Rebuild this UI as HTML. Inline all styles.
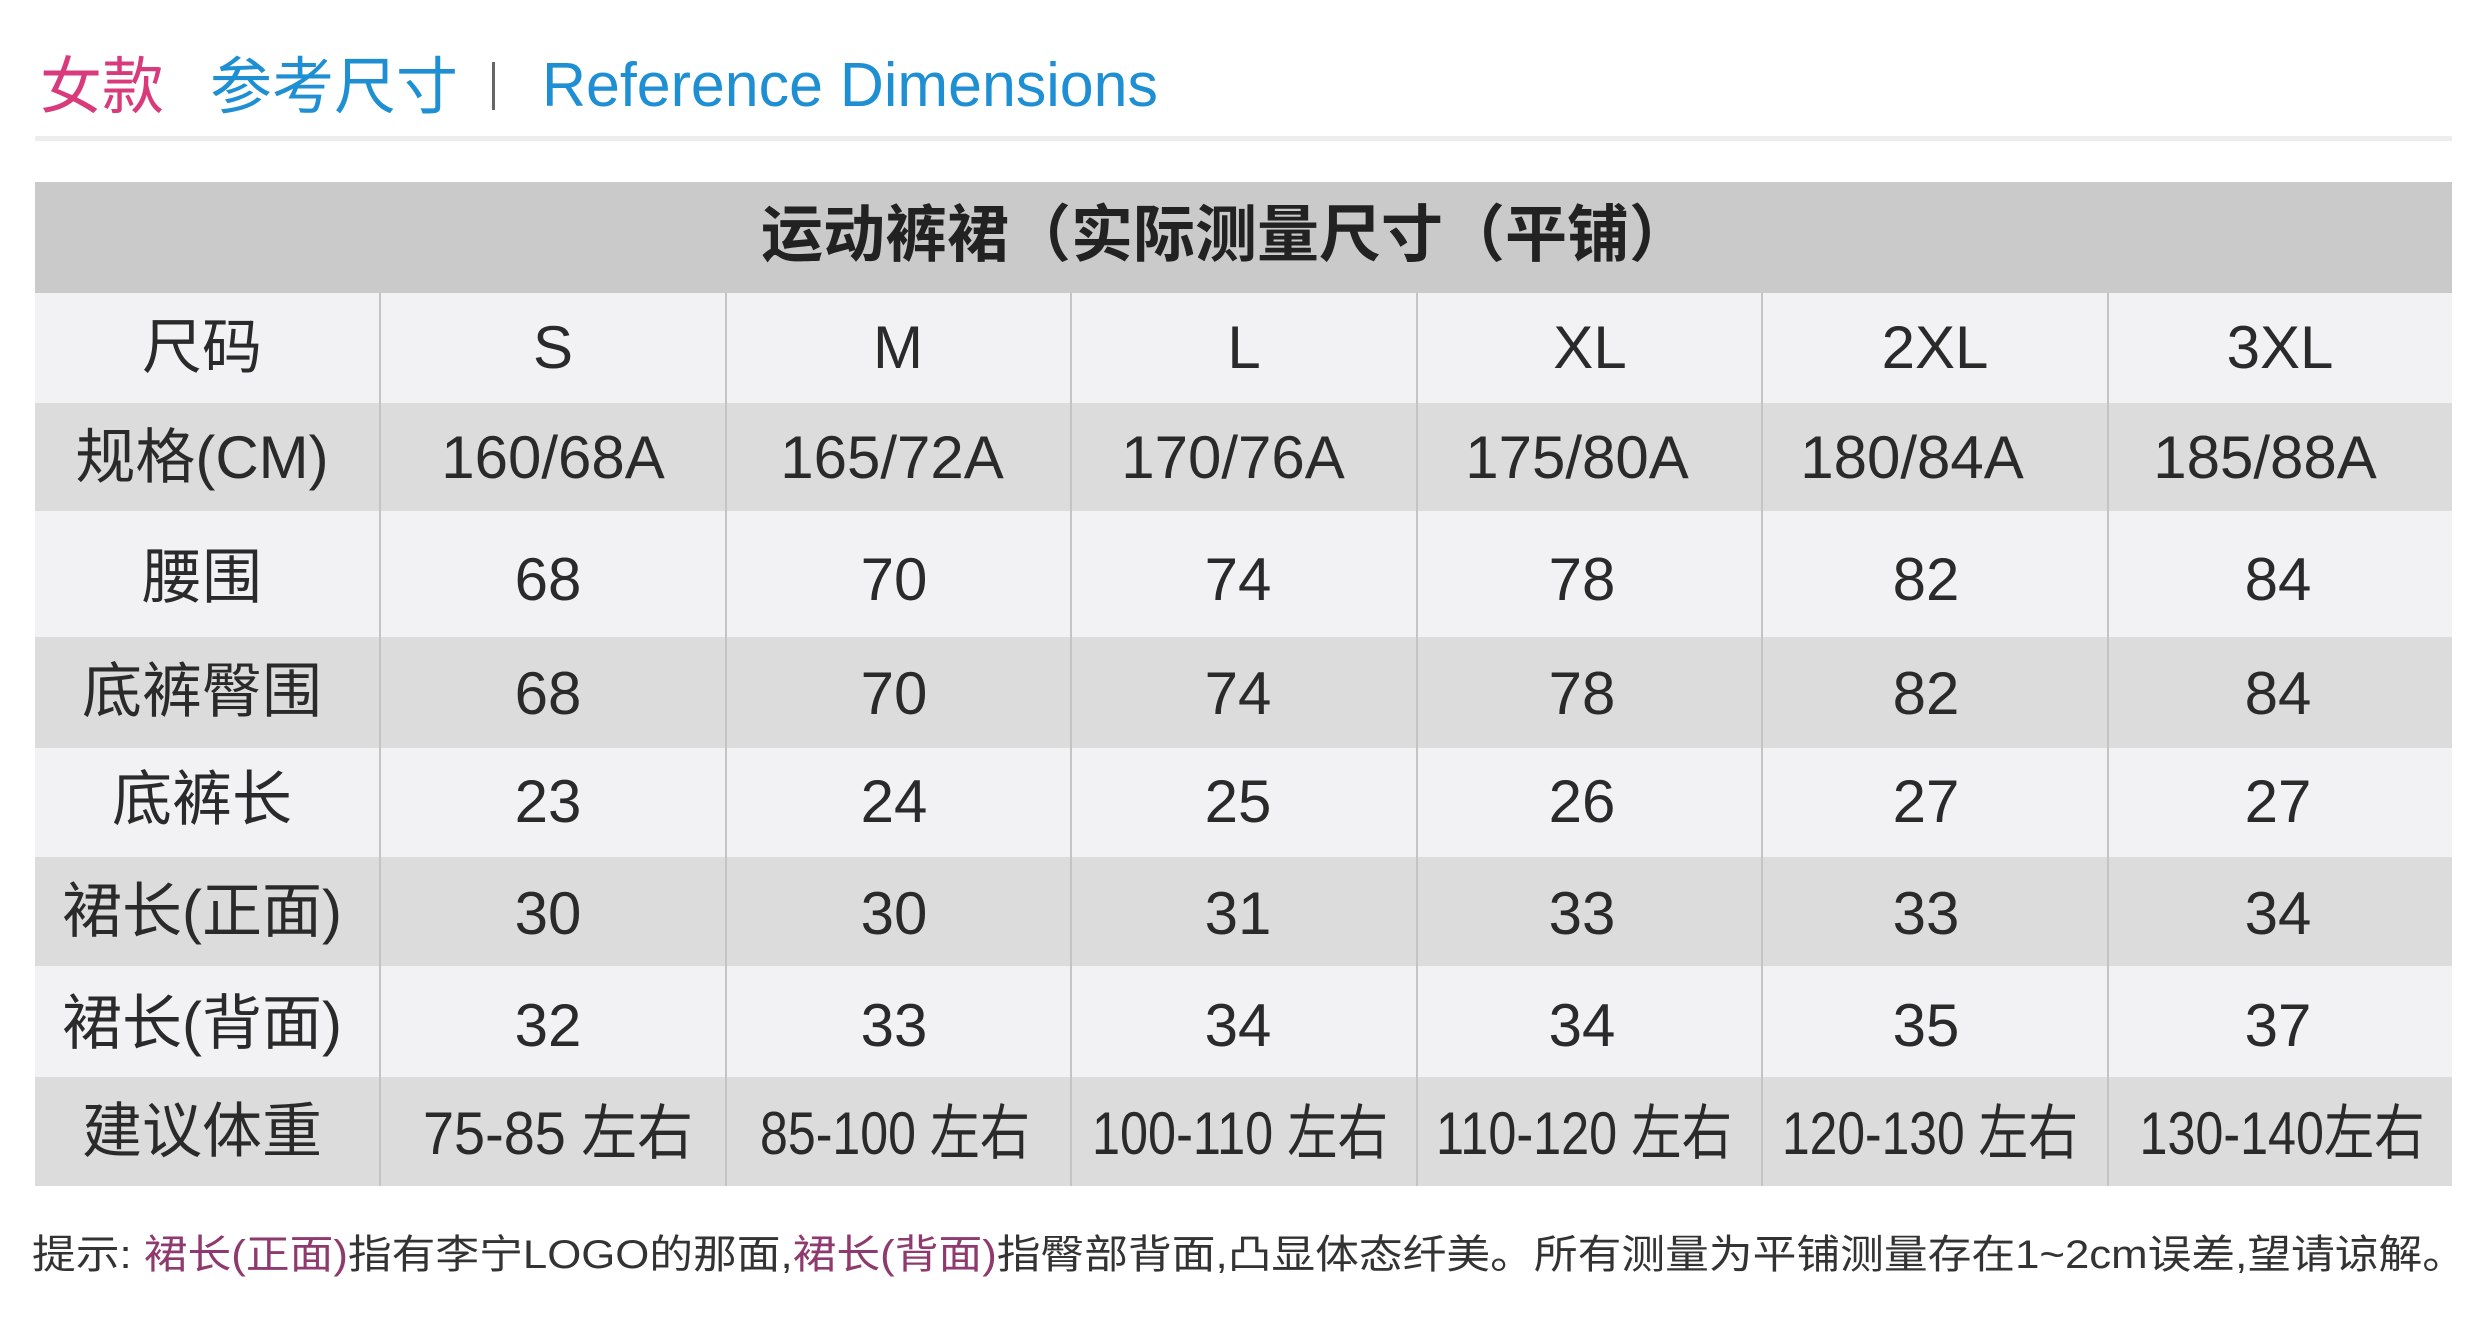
<!DOCTYPE html>
<html><head><meta charset="utf-8"><style>
html,body{margin:0;padding:0;background:#fff;}
svg{display:block;}
text{font-family:"Liberation Sans","Noto Sans CJK SC",sans-serif;}
</style></head><body>
<svg width="2480" height="1328" viewBox="0 0 2480 1328" xmlns="http://www.w3.org/2000/svg">
<rect width="2480" height="1328" fill="#fff"/>
<!-- title -->
<text x="40" y="108" font-size="62" fill="#d83a7c">女款</text>
<text x="210" y="108" font-size="62" fill="#1e8fd2">参考尺寸</text>
<rect x="492" y="62" width="3" height="48" fill="#666"/>
<text x="542" y="106" font-size="62" fill="#1e8fd2" textLength="616" lengthAdjust="spacingAndGlyphs">Reference Dimensions</text>
<rect x="35" y="136" width="2417" height="5" fill="#ededed"/>
<!-- table backgrounds -->
<rect x="35" y="182" width="2417" height="111" fill="#cacaca"/>
<rect x="35" y="293" width="2417" height="110" fill="#f2f2f4"/>
<rect x="35" y="403" width="2417" height="108" fill="#dcdcdc"/>
<rect x="35" y="511" width="2417" height="126" fill="#f2f2f4"/>
<rect x="35" y="637" width="2417" height="111" fill="#dcdcdc"/>
<rect x="35" y="748" width="2417" height="109" fill="#f2f2f4"/>
<rect x="35" y="857" width="2417" height="109" fill="#dcdcdc"/>
<rect x="35" y="966" width="2417" height="111" fill="#f2f2f4"/>
<rect x="35" y="1077" width="2417" height="109" fill="#dcdcdc"/>
<g stroke="#c4c4c4" stroke-width="2">
<line x1="380" y1="293" x2="380" y2="1186"/>
<line x1="726" y1="293" x2="726" y2="1186"/>
<line x1="1071" y1="293" x2="1071" y2="1186"/>
<line x1="1417" y1="293" x2="1417" y2="1186"/>
<line x1="1762" y1="293" x2="1762" y2="1186"/>
<line x1="2108" y1="293" x2="2108" y2="1186"/>
</g>
<text x="1226" y="256" font-size="62" font-weight="bold" fill="#222" text-anchor="middle">运动裤裙（实际测量尺寸（平铺）</text>
<g font-size="60" fill="#2a2a2a" text-anchor="middle">
<text x="202" y="368">尺码</text><text x="553" y="368">S</text><text x="898" y="368">M</text><text x="1244" y="368">L</text><text x="1590" y="368">XL</text><text x="1935" y="368">2XL</text><text x="2280" y="368">3XL</text>
<text x="202" y="478">规格(CM)</text><text x="553" y="478">160/68A</text><text x="892" y="478">165/72A</text><text x="1233" y="478">170/76A</text><text x="1577" y="478">175/80A</text><text x="1912" y="478">180/84A</text><text x="2265" y="478">185/88A</text>
<text x="202" y="598">腰围</text><text x="548" y="600">68</text><text x="894" y="600">70</text><text x="1238" y="600">74</text><text x="1582" y="600">78</text><text x="1926" y="600">82</text><text x="2278" y="600">84</text>
<text x="202" y="712">底裤臀围</text><text x="548" y="714">68</text><text x="894" y="714">70</text><text x="1238" y="714">74</text><text x="1582" y="714">78</text><text x="1926" y="714">82</text><text x="2278" y="714">84</text>
<text x="202" y="820">底裤长</text><text x="548" y="822">23</text><text x="894" y="822">24</text><text x="1238" y="822">25</text><text x="1582" y="822">26</text><text x="1926" y="822">27</text><text x="2278" y="822">27</text>
<text x="202" y="932">裙长(正面)</text><text x="548" y="934">30</text><text x="894" y="934">30</text><text x="1238" y="934">31</text><text x="1582" y="934">33</text><text x="1926" y="934">33</text><text x="2278" y="934">34</text>
<text x="202" y="1044">裙长(背面)</text><text x="548" y="1046">32</text><text x="894" y="1046">33</text><text x="1238" y="1046">34</text><text x="1582" y="1046">34</text><text x="1926" y="1046">35</text><text x="2278" y="1046">37</text>
<text x="202" y="1152">建议体重</text>
<text x="558" y="1154" textLength="270" lengthAdjust="spacingAndGlyphs">75-85 左右</text>
<text x="895" y="1154" textLength="270" lengthAdjust="spacingAndGlyphs">85-100 左右</text>
<text x="1240" y="1154" textLength="296" lengthAdjust="spacingAndGlyphs">100-110 左右</text>
<text x="1584" y="1154" textLength="296" lengthAdjust="spacingAndGlyphs">110-120 左右</text>
<text x="1930" y="1154" textLength="296" lengthAdjust="spacingAndGlyphs">120-130 左右</text>
<text x="2282" y="1154" textLength="285" lengthAdjust="spacingAndGlyphs">130-140左右</text>
</g>
<text x="32" y="1268" font-size="40" fill="#333" textLength="2434" lengthAdjust="spacingAndGlyphs">提示: <tspan fill="#8e3a6e">裙长(正面)</tspan>指有李宁LOGO的那面,<tspan fill="#8e3a6e">裙长(背面)</tspan>指臀部背面,凸显体态纤美。所有测量为平铺测量存在1~2cm误差,望请谅解。</text>
</svg>
</body></html>
